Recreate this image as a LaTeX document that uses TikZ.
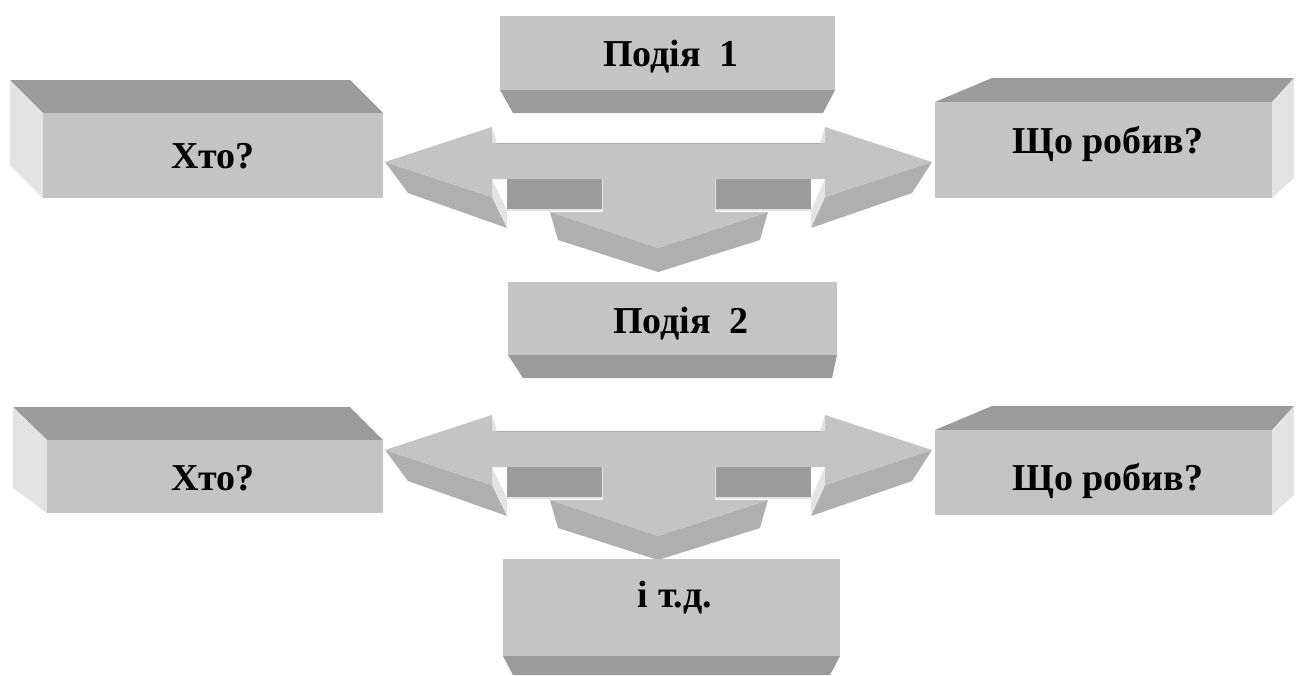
\documentclass[tikz,border=0pt]{standalone}
\usepackage{fontspec}
\setmainfont{Liberation Serif}
\usetikzlibrary{positioning}

\definecolor{facegray}{HTML}{C4C4C4}
\definecolor{topgray}{HTML}{9B9B9B}
\definecolor{sidegray}{HTML}{E3E3E3}
\definecolor{undergray}{HTML}{AFAFAF}

\tikzset{
  face/.style={fill=facegray},
  topface/.style={fill=topgray},
  sideface/.style={fill=sidegray},
  underface/.style={fill=undergray},
  txt/.style={font=\bfseries\fontsize{38}{44}\selectfont, inner sep=0pt, anchor=base}
}

\begin{document}
\begin{tikzpicture}[x=1pt,y=-1pt]
    \useasboundingbox[fill=white] (0,0) rectangle (1296,675);

    % three-way arrows
    \foreach \dy in {0,288} {
      \begin{scope}[shift={(0,\dy)}]
        \fill[underface] (385,162) -- (492,197) -- (507,228) -- (408,193) -- cycle;
        \fill[underface] (932,162) -- (825,197) -- (811,228) -- (912,193) -- cycle;
        \fill[underface] (550,212) -- (658,248) -- (768,212) -- (760,240) -- (658,272) -- (558,240) -- cycle;
        \fill[topface] (507,179) rectangle (603,210);
        \fill[topface] (715,179) rectangle (811,210);
        \draw[sidegray, line width=1.2pt] (507,210) -- (603,210) -- (603,179);
        \draw[sidegray, line width=1.2pt] (811,210) -- (715,210) -- (715,179);
        \fill[sideface] (492,179) -- (507,210) -- (507,228) -- (492,197) -- cycle;
        \fill[sideface] (825,179) -- (811,210) -- (811,228) -- (825,197) -- cycle;
        \fill[sideface] (492,127) -- (497,143) -- (492,143) -- cycle;
        \fill[sideface] (825,127) -- (820,143) -- (825,143) -- cycle;
        \fill[face] (385,162) -- (492,127) -- (492,143) -- (825,143) -- (825,127)
          -- (932,162) -- (825,197) -- (825,179) -- (715,179) -- (715,212)
          -- (768,212) -- (658,248) -- (550,212) -- (603,212) -- (603,179)
          -- (492,179) -- (492,197) -- cycle;
        \draw[facegray!85!black, line width=.6pt] (497,143) -- (820,143);
      \end{scope}
    }

    % left boxes
    \fill[topface] (10,80) -- (350,80) -- (383,113) -- (43,113) -- cycle;
    \fill[sideface] (10,80) -- (43,113) -- (43,198) -- (10,165) -- cycle;
    \fill[face] (43,113) rectangle (383,198);

    \fill[topface] (13,407) -- (350,407) -- (383,440) -- (47,440) -- cycle;
    \fill[sideface] (13,407) -- (47,440) -- (47,513) -- (13,488) -- cycle;
    \fill[face] (47,440) rectangle (383,513);

    % right boxes
    \fill[topface] (935,102) -- (992,78) -- (1294,78) -- (1272,102) -- cycle;
    \fill[sideface] (1272,102) -- (1294,78) -- (1294,178) -- (1272,198) -- cycle;
    \fill[face] (935,102) rectangle (1272,198);

    \fill[topface] (935,430) -- (992,406) -- (1294,406) -- (1272,430) -- cycle;
    \fill[sideface] (1272,430) -- (1294,406) -- (1294,495) -- (1272,515) -- cycle;
    \fill[face] (935,430) rectangle (1272,515);

    % event boxes
    \fill[face] (500,16) rectangle (835,90);
    \fill[topface] (500,90) -- (835,90) -- (823,113) -- (513,113) -- cycle;

    \fill[face] (508,282) rectangle (837,355);
    \fill[topface] (508,355) -- (837,355) -- (832,378) -- (523,378) -- cycle;

    \fill[face] (503,559) rectangle (840,656);
    \fill[topface] (503,656) -- (840,656) -- (830,675) -- (513,675) -- cycle;

    % texts
    \node[txt] (ev1) at (671,66) {Подія\ \ 1};
    \node[txt] (who1) at (213,168) {Хто?};
    \node[txt] (did1) at (1108,153) {Що робив?};
    \node[txt] (ev2) at (681,333) {Подія\ \ 2};
    \node[txt] (who2) at (213,490) {Хто?};
    \node[txt] (did2) at (1108,490) {Що робив?};
    \node[txt] (etc) at (675,607) {і т.д.};
\end{tikzpicture}
\end{document}
